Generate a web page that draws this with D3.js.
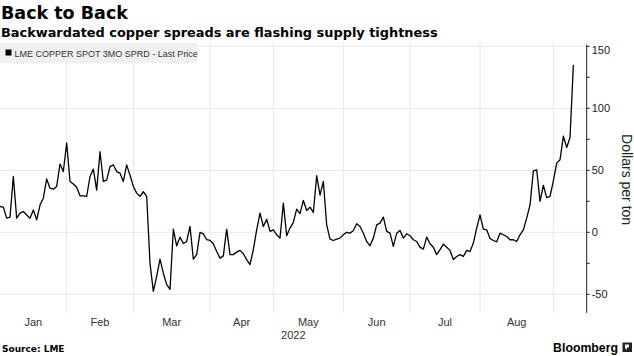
<!DOCTYPE html>
<html>
<head>
<meta charset="utf-8">
<script src="https://cdn.jsdelivr.net/npm/d3@7"></script>
<style>
  html, body { margin: 0; padding: 0; background: #fff; }
  svg { display: block; }
</style>
</head>
<body>
<svg id="chart" width="634" height="356"></svg>
<script>
// ---- Data (trading-day series, Jan → early Sep 2022) ----
const values = [
  20.8, 20.3, 11.4, 12.2, 45, 11.4, 15.5, 16.8, 14, 11.4,
  18, 10, 22, 27.5, 43, 35.6, 34.8, 37, 55, 49,
  72, 41, 39, 36.4, 29.4, 29.4, 29, 45, 51, 34,
  65, 41, 42, 53, 54.4, 49, 47.7, 41, 54.4, 46,
  37, 31.6, 29, 32.7, 29, -25, -47.7, -35.6, -21.6, -33,
  -42, -46, 2.5, -11, -4, -9, -7.4, 4.7, -21.6, -18,
  0, -1.2, -6, -6.6, -9.3, -15.5, -20.8, -19, 2.5, -18,
  -18, -16, -14.6, -17.3, -22, -26, -14, 2, 15.5, 4.7,
  10.6, 0.7, 2, -2, -4.7, 23.5, -2.8, 3.4, 8, 18.7,
  15, 25.7, 17.6, 20.3, 16, 45.6, 30, 41, 6, -5.5,
  -6.6, -5.5, -4.7, -2, 0, -0.7, 1.5, 6.9, 4.7, -0.7,
  -7.4, -10.9, -4.7, 6, 7.4, 12.2, 0.7, -0.7, -11.4, -0.7,
  1.5, -4.7, -1.2, -2.8, -6, -7.4, -12, -13.6, -3.9, -9.3,
  -12, -18, -14, -9.5, -12, -14.6, -22, -19.5, -18, -19.5,
  -14.6, -15.5, -8.7, 3.4, 14, 2.5, 2, -5, -6.6, -7.7,
  -0.7, -2, -3.4, -6, -6, -7.4, -2, 2, 11.4, 22,
  49.6, 50.4, 25, 37.8, 28, 29, 41.5, 55.8, 58.5, 77.6,
  68.4, 76.5, 135
];
const monthLabels = ["Jan", "Feb", "Mar", "Apr", "May", "Jun", "Jul", "Aug"];
const monthStarts = [0, 20, 40, 63, 82, 103, 123, 144, 166]; // trading-day index of each month start
const yearLabel = "2022";
const yTickValues = [-50, 0, 50, 100, 150];
const yMinorTickValues = [-50, -25, 0, 25, 50, 75, 100, 125, 150];
const seriesName = "LME COPPER SPOT 3MO SPRD - Last Price";
const titleText = "Back to Back";
const subtitleText = "Backwardated copper spreads are flashing supply tightness";
const yAxisTitle = "Dollars per ton";
const sourceText = "Source: LME";

// ---- Layout ----
const svg = d3.select("#chart");
const plot = { left: 0, right: 586.7, top: 46.3, bottom: 312.9 };
const xDomainMax = 176;

const x = d3.scaleLinear().domain([0, xDomainMax]).range([plot.left, plot.right]);
const y = d3.scaleLinear().domain([-65, 150]).range([plot.bottom, plot.top]);

const sans = "'Liberation Sans', Arial, sans-serif";
const dejavu = "'DejaVu Sans', Verdana, sans-serif";

// Gridlines - horizontal
svg.append("g").selectAll("line").data(yTickValues).join("line")
  .attr("x1", plot.left).attr("x2", plot.right)
  .attr("y1", d => y(d)).attr("y2", d => y(d))
  .attr("stroke", "#e8e8e8").attr("stroke-width", 1);

// Gridlines - vertical (month starts)
svg.append("g").selectAll("line").data(monthStarts.slice(1)).join("line")
  .attr("x1", d => x(d)).attr("x2", d => x(d))
  .attr("y1", 42).attr("y2", plot.bottom)
  .attr("stroke", "#e8e8e8").attr("stroke-width", 1);

// Legend box
const legend = svg.append("g");
legend.append("rect").attr("x", 0).attr("y", 43).attr("width", 197).attr("height", 20)
  .attr("fill", "#f0f0f0");
legend.append("rect").attr("x", 5.5).attr("y", 49.5).attr("width", 6).attr("height", 6)
  .attr("fill", "#000");
legend.append("text").attr("x", 14.5).attr("y", 56.8)
  .attr("font-family", sans).attr("font-size", 9).attr("fill", "#333")
  .text(seriesName);

// Line
const line = d3.line().x((d, i) => x(i)).y(d => y(d));
svg.append("path").datum(values)
  .attr("d", line)
  .attr("fill", "none").attr("stroke", "#000").attr("stroke-width", 1.3)
  .attr("stroke-linejoin", "round");

// Y axis on the right
const axisG = svg.append("g").attr("transform", `translate(${plot.right},0)`);
axisG.append("line").attr("x1", 0).attr("x2", 0)
  .attr("y1", 44.5).attr("y2", plot.bottom).attr("stroke", "#222").attr("stroke-width", 1);
axisG.selectAll("line.tick").data(yMinorTickValues).join("line").attr("class", "tick")
  .attr("x1", 0).attr("x2", 3)
  .attr("y1", d => y(d)).attr("y2", d => y(d))
  .attr("stroke", "#222").attr("stroke-width", 1);
axisG.selectAll("text").data(yTickValues).join("text")
  .attr("x", 5).attr("y", d => Math.max(y(d), 50))
  .attr("dy", "0.36em")
  .attr("font-family", sans).attr("font-size", 11).attr("fill", "#222")
  .text(d => d);

// Y axis title
svg.append("text")
  .attr("transform", `translate(621.5, ${(plot.top + plot.bottom) / 2}) rotate(90)`)
  .attr("text-anchor", "middle")
  .attr("font-family", sans).attr("font-size", 14).attr("fill", "#222")
  .text(yAxisTitle);

// Month labels
svg.append("g").selectAll("text").data(monthLabels).join("text")
  .attr("x", (d, i) => (x(monthStarts[i]) + x(monthStarts[i + 1])) / 2)
  .attr("y", 325.5)
  .attr("text-anchor", "middle")
  .attr("font-family", sans).attr("font-size", 11).attr("fill", "#333")
  .text(d => d);
svg.append("text")
  .attr("x", (plot.left + plot.right) / 2).attr("y", 339)
  .attr("text-anchor", "middle")
  .attr("font-family", sans).attr("font-size", 11).attr("fill", "#333")
  .text(yearLabel);

// Titles
svg.append("text").attr("x", 1).attr("y", 19.3)
  .attr("font-family", dejavu).attr("font-weight", "bold").attr("font-size", 17.5).attr("fill", "#000")
  .text(titleText);
svg.append("text").attr("x", 1).attr("y", 36.7)
  .attr("font-family", dejavu).attr("font-weight", "bold").attr("font-size", 12.9).attr("fill", "#000")
  .text(subtitleText);

// Footer
svg.append("text").attr("x", 2).attr("y", 351.5)
  .attr("font-family", dejavu).attr("font-weight", "bold")
  .attr("font-size", 9).attr("fill", "#000")
  .text(sourceText);
svg.append("text").attr("x", 618).attr("y", 351.5).attr("text-anchor", "end")
  .attr("font-family", sans).attr("font-weight", "bold")
  .attr("font-size", 12.3).attr("fill", "#000")
  .text("Bloomberg");
const logo = svg.append("g").attr("transform", "translate(622.5,342.5)");
logo.append("rect").attr("width", 9.5).attr("height", 9.5).attr("fill", "#222");
logo.append("path").attr("d", "M2.5,2 h4 v3 h-2 v2.5 l-2,-2 z").attr("fill", "#fff");
</script>
</body>
</html>
